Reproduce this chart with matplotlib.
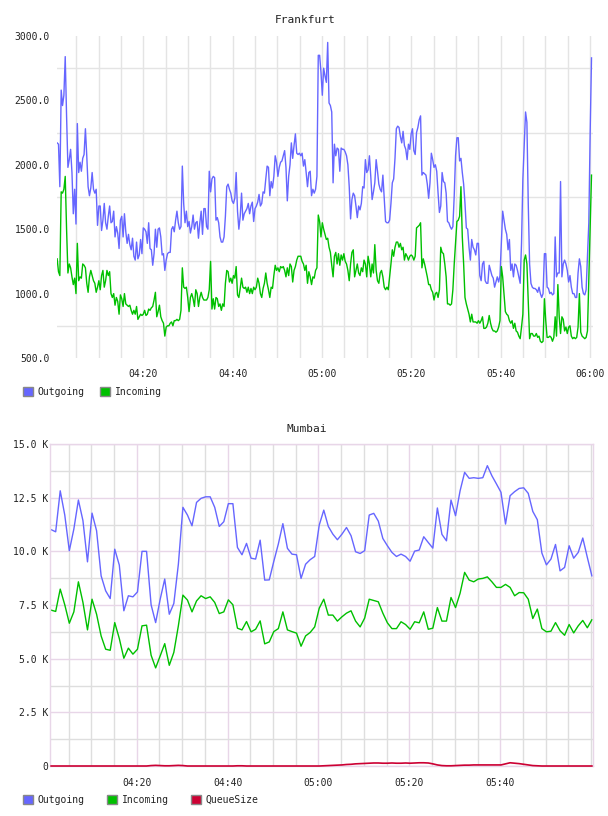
import matplotlib
matplotlib.use("Agg")
import matplotlib.pyplot as plt
import matplotlib.dates as mdates
from matplotlib.patches import Patch
from matplotlib.ticker import FixedLocator, FuncFormatter
import pandas as pd

plt.rcParams['font.family'] = ['DejaVu Sans Mono']

# ---- Frankfurt (requests, sampled roughly every 18 s) ----
frankfurt_out = [
    2170, 2160, 1830, 2580, 2460, 2540, 2840, 2380, 1980, 2040,
    2120, 1940, 1620, 1810, 1540, 2320, 1940, 2020, 1950, 2050,
    2080, 2280, 2070, 1830, 1760, 1820, 1940, 1810, 1780, 1810,
    1530, 1680, 1680, 1490, 1570, 1700, 1550, 1500, 1600, 1680,
    1550, 1560, 1640, 1440, 1520, 1470, 1350, 1570, 1600, 1440,
    1620, 1480, 1390, 1460, 1380, 1340, 1430, 1290, 1260, 1400,
    1270, 1300, 1420, 1310, 1510, 1500, 1480, 1390, 1550, 1350,
    1340, 1220, 1310, 1500, 1360, 1500, 1510, 1440, 1300, 1310,
    1180, 1260, 1310, 1320, 1320, 1500, 1520, 1480, 1570, 1640,
    1550, 1500, 1520, 1990, 1700, 1550, 1640, 1520, 1560, 1470,
    1520, 1610, 1500, 1550, 1560, 1430, 1550, 1640, 1460, 1660,
    1660, 1520, 1500, 1950, 1790, 1890, 1910, 1900, 1570, 1590,
    1550, 1440, 1400, 1400, 1440, 1600, 1830,
    1850, 1810, 1780, 1720, 1700, 1740, 1940, 1640, 1500, 1600,
    1780, 1570, 1620, 1640, 1660, 1700, 1620, 1680, 1710, 1560,
    1660, 1680, 1710, 1770, 1680, 1700, 1790, 1780, 1890, 1990,
    1980, 1760, 1870, 1820, 1910, 2070, 2020, 1910, 1980, 2020,
    2030, 2070, 2110, 1980, 1720, 1910, 2000, 2170, 2050, 2150,
    2240, 2090, 2080, 2090, 2070, 2090, 1990, 2040, 1940, 1830,
    1940, 1950, 1760, 1810, 1780, 1810, 1910, 2850, 2850, 2720,
    2540, 2750, 2690, 2640, 2950, 2480, 2460, 2410, 1860, 2160,
    2070, 2130, 2120, 1950, 2130, 2120, 2120, 2100, 2070, 2000,
    1830, 1580, 1730, 1780, 1760, 1680, 1590, 1680, 1650, 1700,
    1830, 1820, 2040, 1940, 1960, 2070, 1910, 1730, 1790, 1860,
    2040, 1950, 1850, 1810, 1790, 1920, 1740, 1560, 1550, 1550,
    1570, 1700, 1860, 1890, 2050, 2280, 2300, 2290, 2220, 2170,
    2260, 2150, 2120, 2040, 2160, 2120, 2240, 2280,
    2110, 2080, 2250, 2290, 2350, 2380, 1920, 1940, 1930, 1920,
    1850, 1740, 1860, 2090, 2040, 1980, 2000, 1950, 1780, 1630,
    1680, 1940, 1870, 1860, 1780, 1560, 1550, 1520, 1500, 1520,
    1760, 2070, 2210, 2210, 2030, 2050, 1940, 1850, 1700, 1510,
    1500, 1360, 1260, 1420, 1360, 1340, 1300, 1390, 1390, 1140,
    1100, 1230, 1250, 1100, 1080, 1080, 1220, 1180, 1140, 1120,
    1050, 1090, 1130, 1090, 1140, 1390, 1640, 1570, 1500, 1460,
    1340, 1420, 1180, 1230, 1130, 1230, 1220, 1180, 1130, 1080,
    1390, 1890, 2160, 2410, 2330, 1700, 1230, 1080, 1050, 1040,
    1040, 1030, 1010, 1050, 1000, 970, 1000, 1310, 1310, 1050,
    1040, 1000, 1010, 990, 1000, 1440, 1130, 1160, 1160, 1870,
    1130, 1230, 1260, 1230, 1180, 1090, 1140, 1050, 1000, 1000,
    970, 970, 1160, 1270, 1210, 1050, 1000, 990, 1030, 1290,
    1550, 2250, 2830,
]
frankfurt_in = [
    1270, 1170, 1140, 1790, 1780, 1810, 1910, 1500, 1160, 1230,
    1200, 1130, 1070, 1120, 1000, 1390, 1100, 1130, 1120, 1230,
    1220, 1200, 1080, 1010, 1130, 1180, 1140, 1100, 1080, 1010,
    1050, 1100, 1030, 1140, 1180, 1050, 1100, 1180, 1140, 1170,
    1000, 970, 1000, 910, 970, 940, 840, 990, 960, 900,
    1000, 920, 910, 900, 910, 870, 840, 870, 840, 900,
    800, 820, 840, 830, 840, 870, 830, 840, 880, 870,
    890, 900, 950, 1010, 820, 860, 910, 820, 790, 770,
    670, 740, 750, 750, 770, 780, 750, 790, 790, 800,
    790, 800, 870, 1200, 1050, 1040, 1050, 970, 860, 970,
    1000, 960, 900, 1030, 1000, 900, 970, 1010, 970, 950,
    950, 950, 970, 1030, 1250, 880, 960, 880, 970, 960,
    900, 920, 870, 920, 900, 1080, 1180,
    1170, 1090, 1120, 1080, 1140, 1120, 1210, 990, 970, 1040,
    1120, 1050, 1040, 1050, 1010, 1050, 1000, 1040, 1000, 1050,
    1030, 1050, 1120, 1080, 1000, 970, 1040, 1080, 1160, 1080,
    1030, 970, 1050, 1040, 1140, 1220, 1180, 1200, 1170, 1210,
    1200, 1210, 1180, 1130, 1200, 1140, 1230, 1210, 1090, 1180,
    1210, 1260, 1290, 1290, 1290, 1250, 1230, 1180, 1220, 1080,
    1170, 1130, 1070, 1130, 1120, 1180, 1200, 1610, 1560, 1440,
    1550, 1500, 1460, 1420, 1430, 1360, 1320, 1220, 1130, 1290,
    1320, 1230, 1310, 1220, 1300, 1260, 1310, 1250, 1230, 1180,
    1100, 1230, 1320, 1340, 1130, 1180, 1230, 1160, 1140, 1200,
    1170, 1260, 1230, 1130, 1290, 1230, 1130, 1230, 1160, 1380,
    1180, 1100, 1080, 1160, 1180, 1130, 1050, 1030, 1050, 1030,
    1130, 1230, 1340, 1290, 1360, 1400, 1400, 1360, 1390, 1340,
    1360, 1260, 1310, 1290, 1260, 1290, 1300, 1290,
    1260, 1290, 1510, 1520, 1530, 1550, 1200, 1270, 1230, 1180,
    1130, 1070, 1070, 1030, 1010, 950, 1000, 1010, 970, 1030,
    1360, 1320, 1310, 1230, 1130, 920, 920, 910, 920, 1030,
    1230, 1390, 1560, 1570, 1600, 1830, 1440, 1230, 970, 920,
    880, 840, 780, 840, 780, 780, 780, 770, 790, 770,
    790, 820, 730, 730, 740, 770, 830, 770, 730, 710,
    710, 700, 710, 740, 790, 1210, 1130, 1000, 860, 840,
    830, 790, 770, 790, 730, 770, 710, 700, 670, 650,
    740, 840, 1260, 1300, 1230, 950, 650, 690, 690, 670,
    670, 690, 660, 670, 630, 620, 630, 960, 790, 660,
    660, 670, 660, 630, 660, 820, 670, 1070, 820, 690,
    820, 800, 710, 740, 690, 740, 750, 670, 650, 660,
    650, 660, 740, 1000, 700, 670, 660, 650, 660, 710,
    1120, 1500, 1920,
]

# ---- Mumbai (thousands, one sample per minute) ----
mumbai_out = [
    11.01, 10.91, 12.82, 11.69, 10.03, 11.04, 12.39, 11.43, 9.51, 11.78,
    10.96, 8.86, 8.16, 7.80, 10.10, 9.36, 7.23, 7.93, 7.88, 8.11,
    10.00, 10.00, 7.51, 6.68, 7.77, 8.71, 7.07, 7.57, 9.40, 12.05,
    11.69, 11.19, 12.28, 12.47, 12.54, 12.54, 12.05, 11.16, 11.38, 12.22,
    12.22, 10.18, 9.84, 10.37, 9.68, 9.64, 10.52, 8.66, 8.67, 9.53,
    10.34, 11.29, 10.14, 9.87, 9.84, 8.74, 9.40, 9.61, 9.76, 11.22,
    11.92, 11.16, 10.80, 10.54, 10.80, 11.11, 10.73, 9.98, 9.90, 10.03,
    11.69, 11.77, 11.41, 10.60, 10.26, 9.95, 9.76, 9.87, 9.76, 9.54,
    10.01, 10.06, 10.68, 10.41, 10.15, 12.02, 10.79, 10.49, 12.39, 11.66,
    12.82, 13.68, 13.40, 13.43, 13.40, 13.43, 13.99, 13.52, 13.14, 12.75,
    11.27, 12.59, 12.78, 12.93, 12.96, 12.70, 11.86, 11.47, 9.92, 9.37,
    9.64, 10.32, 9.09, 9.25, 10.26, 9.68, 9.95, 10.62, 9.72, 8.86,
]
mumbai_in = [
    7.26, 7.20, 8.24, 7.51, 6.65, 7.18, 8.58, 7.62, 6.34, 7.77,
    7.07, 6.06, 5.44, 5.39, 6.68, 5.94, 5.02, 5.49, 5.21, 5.44,
    6.53, 6.56, 5.16, 4.57, 5.13, 5.70, 4.69, 5.29, 6.53, 7.96,
    7.73, 7.18, 7.69, 7.93, 7.80, 7.88, 7.62, 7.10, 7.18, 7.74,
    7.51, 6.42, 6.34, 6.73, 6.25, 6.37, 6.76, 5.69, 5.78, 6.26,
    6.40, 7.18, 6.34, 6.26, 6.19, 5.58, 6.06, 6.22, 6.48, 7.35,
    7.77, 7.03, 7.03, 6.75, 6.95, 7.12, 7.23, 6.75, 6.48, 6.89,
    7.77, 7.71, 7.65, 7.12, 6.67, 6.40, 6.40, 6.72, 6.59, 6.37,
    6.72, 6.67, 7.18, 6.37, 6.42, 7.38, 6.75, 6.75, 7.85, 7.38,
    8.05, 9.02, 8.66, 8.58, 8.71, 8.74, 8.81, 8.58, 8.32, 8.32,
    8.46, 8.32, 7.93, 8.08, 8.07, 7.77, 6.87, 7.31, 6.40, 6.25,
    6.28, 6.68, 6.30, 6.09, 6.59, 6.20, 6.53, 6.78, 6.44, 6.81,
]
mumbai_queue = [
    0, 0, 0, 0, 0, 0, 0, 0, 0, 0,
    0, 0, 0, 0, 0, 0, 0, 0, 0, 0,
    0, 0, 0.02, 0.03, 0.02, 0.01, 0.01, 0.02, 0.03, 0.02,
    0, 0, 0, 0, 0, 0, 0, 0, 0, 0,
    0, 0.01, 0.01, 0, 0, 0, 0, 0, 0, 0,
    0, 0, 0, 0, 0, 0, 0, 0, 0, 0,
    0.01, 0.02, 0.03, 0.04, 0.05, 0.07, 0.08, 0.10, 0.11, 0.12,
    0.13, 0.14, 0.14, 0.13, 0.13, 0.14, 0.13, 0.13, 0.14, 0.13,
    0.14, 0.15, 0.15, 0.14, 0.10, 0.05, 0.02, 0.01, 0.01, 0.02,
    0.03, 0.04, 0.04, 0.05, 0.05, 0.05, 0.05, 0.05, 0.05, 0.05,
    0.10, 0.15, 0.13, 0.11, 0.08, 0.05, 0.02, 0.01, 0, 0,
    0, 0, 0, 0, 0, 0, 0, 0, 0, 0,
]

frankfurt_yticks = [500, 1000, 1500, 2000, 2500, 3000]
mumbai_yticks = [0, 2.5, 5, 7.5, 10, 12.5, 15]
hour_labels = ["04:20", "04:40", "05:00", "05:20", "05:40"]

BLUE = "#6666ff"
GREEN = "#00c000"
RED = "#cc0033"
GRID = "#e4e4e4"
PINK = "#e8d6e8"
TXT = "#222222"

day = "2013-01-01 "
fra_times = pd.date_range(day + "04:00:40", day + "06:00:20", periods=len(frankfurt_out))
mum_times = pd.date_range(day + "04:01:10", periods=len(mumbai_out), freq="1min")

W, H = 608, 816
fig = plt.figure(figsize=(W / 100, H / 100), dpi=100)

# ---------------- Frankfurt ----------------
ax1 = fig.add_axes([57 / W, 1 - 358 / H, 536 / W, 322 / H])
ax1.plot(fra_times, frankfurt_out, color=BLUE, lw=1.0)
ax1.plot(fra_times, frankfurt_in, color=GREEN, lw=1.0)
ax1.set_ylim(500, 3000)
ax1.set_xlim(pd.Timestamp(day + "04:00:38"), pd.Timestamp(day + "06:00:40"))
ax1.set_yticks(frankfurt_yticks)
ax1.set_yticklabels([f"{v:.1f}" for v in frankfurt_yticks])
ax1.yaxis.set_minor_locator(FixedLocator([750, 1250, 1750, 2250, 2750]))
ax1.xaxis.set_major_locator(mdates.MinuteLocator(byminute=[0, 20, 40]))
ax1.xaxis.set_minor_locator(mdates.MinuteLocator(byminute=range(0, 60, 5)))
ax1.xaxis.set_major_formatter(mdates.DateFormatter("%H:%M"))
ax1.grid(axis="x", which="both", color=GRID, lw=1)
ax1.grid(axis="y", which="minor", color=GRID, lw=1)
ax1.set_axisbelow(True)
ax1.tick_params(which="both", length=0, labelsize=7, colors=TXT)
ax1.tick_params(axis="y", pad=5)
ax1.tick_params(axis="x", pad=8)
for s in ax1.spines.values():
    s.set_visible(False)

fig.text(305 / W, 1 - 20 / H, "Frankfurt", ha="center", va="center", fontsize=8, color=TXT)
fig.legend(handles=[Patch(facecolor=BLUE, edgecolor="#888888", label="Outgoing"),
                    Patch(facecolor=GREEN, edgecolor="#888888", label="Incoming")],
           loc="center left", bbox_to_anchor=(23 / W, 1 - 392 / H), ncol=2, frameon=False,
           fontsize=7, handlelength=1.0, handleheight=1.0, handletextpad=0.5,
           columnspacing=1.6, borderpad=0, borderaxespad=0, labelcolor=TXT)

# ---------------- Mumbai ----------------
ax2 = fig.add_axes([50 / W, 1 - 766 / H, 543 / W, 322 / H])
ax2.plot(mum_times, mumbai_out, color=BLUE, lw=1.0)
ax2.plot(mum_times, mumbai_in, color=GREEN, lw=1.0)
ax2.plot(mum_times, mumbai_queue, color=RED, lw=1.2, zorder=5, clip_on=False)
ax2.set_ylim(0, 15)
ax2.set_xlim(pd.Timestamp(day + "04:00:55"), pd.Timestamp(day + "06:00:25"))
ax2.set_yticks(mumbai_yticks)
ax2.yaxis.set_major_formatter(FuncFormatter(lambda v, p: "0" if v == 0 else f"{v:.1f} K"))
ax2.yaxis.set_minor_locator(FixedLocator([1.25, 3.75, 6.25, 8.75, 11.25, 13.75]))
ax2.xaxis.set_major_locator(FixedLocator(mdates.date2num(pd.to_datetime([day + h for h in hour_labels]))))
ax2.xaxis.set_minor_locator(mdates.MinuteLocator(byminute=range(0, 60, 5)))
ax2.xaxis.set_major_formatter(mdates.DateFormatter("%H:%M"))
ax2.grid(which="minor", color="#dedede", lw=1)
ax2.grid(which="major", color=PINK, lw=1)
ax2.set_axisbelow(True)
ax2.tick_params(which="both", length=0, labelsize=7, colors=TXT)
ax2.tick_params(axis="y", pad=1)
ax2.tick_params(axis="x", pad=9)
for s in ax2.spines.values():
    s.set_color(PINK)
    s.set_linewidth(1.0)

fig.text(307 / W, 1 - 429 / H, "Mumbai", ha="center", va="center", fontsize=8, color=TXT)
fig.legend(handles=[Patch(facecolor=BLUE, edgecolor="#888888", label="Outgoing"),
                    Patch(facecolor=GREEN, edgecolor="#888888", label="Incoming"),
                    Patch(facecolor=RED, edgecolor="#888888", label="QueueSize")],
           loc="center left", bbox_to_anchor=(23 / W, 1 - 800 / H), ncol=3, frameon=False,
           fontsize=7, handlelength=1.0, handleheight=1.0, handletextpad=0.5,
           columnspacing=2.3, borderpad=0, borderaxespad=0, labelcolor=TXT)

fig.savefig("out.png", dpi=100)
